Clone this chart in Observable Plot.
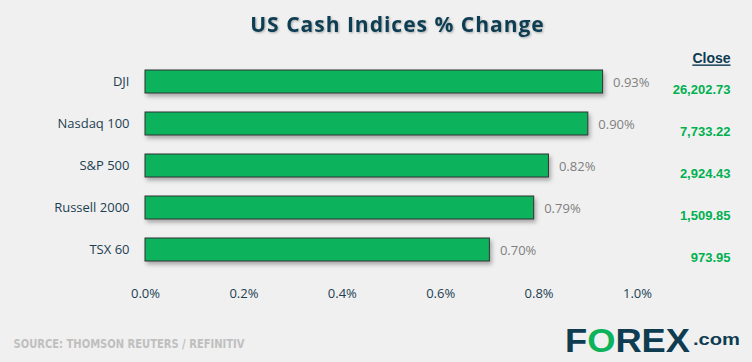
<!DOCTYPE html>
<html>
<head>
<meta charset="utf-8">
<script src="https://cdn.jsdelivr.net/npm/d3@7"></script>
<script src="https://cdn.jsdelivr.net/npm/@observablehq/plot@0.6"></script>
<style>
  html, body { margin: 0; padding: 0; background: #f0f0f0; }
  #chart svg { display: block; }
</style>
</head>
<body>
<div id="chart"></div>
<script>
const names = ["DJI", "Nasdaq 100", "S&P 500", "Russell 2000", "TSX 60"];
const changes = [0.93, 0.90, 0.82, 0.79, 0.70];
const closes = ["26,202.73", "7,733.22", "2,924.43", "1,509.85", "973.95"];
const xTicks = [0, 0.2, 0.4, 0.6, 0.8, 1.0];
const title = "US Cash Indices % Change";
const closeHeader = "Close";
const source = "SOURCE: THOMSON REUTERS / REFINITIV";

const data = names.map((n, i) => ({name: n, change: changes[i], close: closes[i]}));

const W = 752, H = 362;
const mL = 145, mR = 115, mT = 59, mB = 90;

const chart = Plot.plot({
  width: W,
  height: H,
  marginLeft: mL,
  marginRight: mR,
  marginTop: mT,
  marginBottom: mB,
  style: {background: "#f0f0f0", fontFamily: "'Open Sans', sans-serif", fontSize: "13px", overflow: "visible"},
  x: {domain: [0, 1.0], ticks: xTicks, axis: null},
  y: {domain: names, paddingInner: 0.46, paddingOuter: 0.23, axis: null},
  marks: [
    Plot.axisX({ticks: xTicks, tickSize: 0, tickPadding: 16, label: null, tickFormat: d => d.toFixed(1) + "%", fill: "#1d3f52", fontSize: 13}),
    Plot.axisY({tickSize: 0, tickPadding: 16, label: null, fill: "#1d3f52", fontSize: 13}),
    Plot.barX(data, {y: "name", x: "change", fill: "#0db35b", stroke: "#333333", strokeWidth: 1}),
    Plot.text(data, {y: "name", x: "change", text: d => d.change.toFixed(2) + "%", textAnchor: "start", dx: 10, dy: 1, fill: "#7f7f7f", fontSize: 13}),
    Plot.text(data, {y: "name", text: "close", frameAnchor: "right", textAnchor: "end", dx: 93, dy: 8, fill: "#00b050", fontWeight: "bold", fontSize: 13, fontFamily: "'Liberation Sans', Arial, sans-serif"}),
    Plot.text([closeHeader], {text: d => d, frameAnchor: "top-right", textAnchor: "end", dx: 93, dy: -6, fill: "#0d3a52", fontWeight: "bold", fontSize: 14, fontFamily: "'Liberation Sans', Arial, sans-serif"}),
    Plot.text([title], {text: d => d, frameAnchor: "top", dx: 6, dy: -42, fill: "#0d3d52", fontWeight: "bold", fontSize: 21, fontFamily: "'Open Sans', sans-serif"}),
    Plot.text([source], {text: d => d, frameAnchor: "bottom-left", textAnchor: "start", dx: 13 - mL, dy: 347 - (H - mB), fill: "#bfbfbf", fontWeight: "bold", fontSize: 12, fontFamily: "'Liberation Sans Narrow', 'DejaVu Sans Condensed', sans-serif"})
  ]
});

document.getElementById("chart").appendChild(chart);

// decorative effects
const svg = d3.select(chart);
const defs = svg.insert("defs", ":first-child");
const f = defs.append("filter").attr("id", "barShadow").attr("x", "-10%").attr("y", "-30%").attr("width", "130%").attr("height", "180%");
f.append("feDropShadow").attr("dx", 2).attr("dy", 3).attr("stdDeviation", 2).attr("flood-color", "#000").attr("flood-opacity", 0.3);
const f2 = defs.append("filter").attr("id", "titleShadow").attr("x", "-5%").attr("y", "-30%").attr("width", "110%").attr("height", "160%");
f2.append("feDropShadow").attr("dx", 1).attr("dy", 1).attr("stdDeviation", 1).attr("flood-color", "#000").attr("flood-opacity", 0.3);

svg.selectAll("g[aria-label='bar']").attr("filter", "url(#barShadow)");
svg.selectAll("text").each(function() {
  const t = this.textContent;
  const s = d3.select(this);
  if (t === title) s.attr("letter-spacing", "1px").attr("filter", "url(#titleShadow)");
  if (t === closeHeader) s.attr("text-decoration", "underline").style("text-decoration-thickness", "2px");
  if (t === source) s.attr("textLength", 231).attr("lengthAdjust", "spacingAndGlyphs");
});

// logo
const logo = svg.append("text")
  .attr("x", 565).attr("y", 352).attr("text-anchor", "start")
  .attr("font-family", "'Liberation Sans', Arial, sans-serif").attr("font-weight", "bold")
  .attr("font-size", 33).attr("textLength", 125).attr("lengthAdjust", "spacingAndGlyphs");
logo.append("tspan").attr("fill", "#0e3c50").text("F");
logo.append("tspan").attr("fill", "#0db35b").text("O");
logo.append("tspan").attr("fill", "#0e3c50").text("REX");
svg.append("text")
  .attr("x", 693).attr("y", 345).attr("text-anchor", "start")
  .attr("font-family", "'Liberation Sans', Arial, sans-serif").attr("font-weight", "bold")
  .attr("font-size", 17).attr("fill", "#0e3c50")
  .attr("textLength", 47).attr("lengthAdjust", "spacingAndGlyphs").text(".com");
</script>
</body>
</html>
